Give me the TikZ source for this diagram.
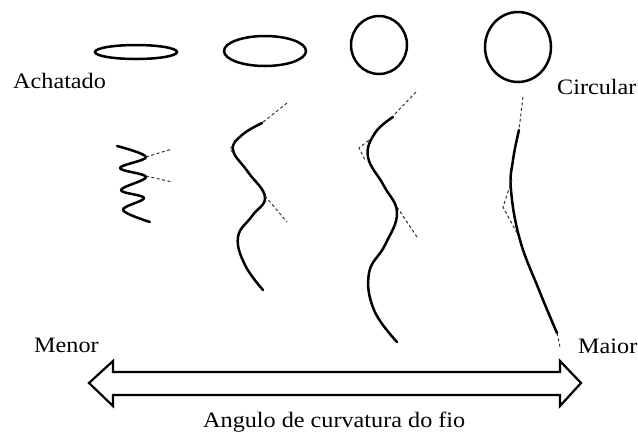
\documentclass[tikz,border=0pt]{standalone}
\usepackage{fontspec}
\setmainfont{Liberation Serif}[FakeStretch=1.1]
\begin{document}
\begin{tikzpicture}[x=1pt,y=-1pt,
  wire/.style={line width=2.5pt,line cap=round,line join=round},
  ring/.style={line width=2.5pt},
  guide/.style={line width=1pt,dash pattern=on 3pt off 2.5pt,black!80},
  lbl/.style={anchor=base west,inner sep=0pt,font=\fontsize{22}{26}\selectfont},
  bigarrow/.style={line width=2.2pt,line join=miter,fill=white}]
\useasboundingbox (0,0) rectangle (638,432);

% cross sections, from flat to round
\draw[ring] (136,52) ellipse [x radius=41,y radius=7];
\draw[ring] (265,51) ellipse [x radius=41,y radius=15];
\draw[ring] (379,45) ellipse [x radius=28,y radius=29];
\draw[ring] (518,47) ellipse [x radius=33,y radius=35];

\node[lbl] (flat) at (13,88) {Achatado};
\node[lbl] (round) at (557,94) {Circular};

% wire 1: tight crimp
\draw[wire] plot[smooth,tension=0.6] coordinates
  {(117,146) (146,157) (120,168) (146,177) (121,190) (144,198) (123,210) (150,222)};
\draw[guide] (146,157) -- (172,149);
\draw[guide] (146,176) -- (172,182);

% wire 2
\draw[wire] plot[smooth,tension=0.7] coordinates
  {(262,123) (242,135) (233,150) (248,172) (265,197) (252,216) (238,237) (245,265) (263,290)};
\draw[guide] (287,103) -- (262,123);
\draw[guide] (265,196) -- (287,222);
\draw[guide] (236,142) -- (230,149) -- (235,155);

% wire 3
\draw[wire] plot[smooth,tension=0.7] coordinates
  {(393,117) (375,133) (368,157) (384,186) (397,213) (385,245) (369,273) (374,310) (397,342)};
\draw[guide] (416,92) -- (392,117);
\draw[guide] (373,137) -- (359,148) -- (365,160);
\draw[guide] (397,207) -- (417,237);

% wire 4: almost straight
\draw[wire] plot[smooth,tension=0.7] coordinates
  {(519,130) (513,160) (511,190) (520,240) (539,290) (557,333)};
\draw[guide] (523,97) -- (519,130);
\draw[guide] (512,180) -- (503,207) -- (517,233);
\draw[guide] (557,333) -- (560,347);

% scale of curvature angle
\node[lbl] (low) at (34,352) {Menor};
\node[lbl] (high) at (578,353) {Maior};
\draw[bigarrow] (89,383) -- (113,361) -- (113,372) -- (560,372) -- (560,361)
  -- (581,383) -- (560,406) -- (560,395) -- (113,395) -- (113,406) -- cycle;
\node[lbl] (axis) at (203,427) {Angulo de curvatura do fio};
\end{tikzpicture}
\end{document}
